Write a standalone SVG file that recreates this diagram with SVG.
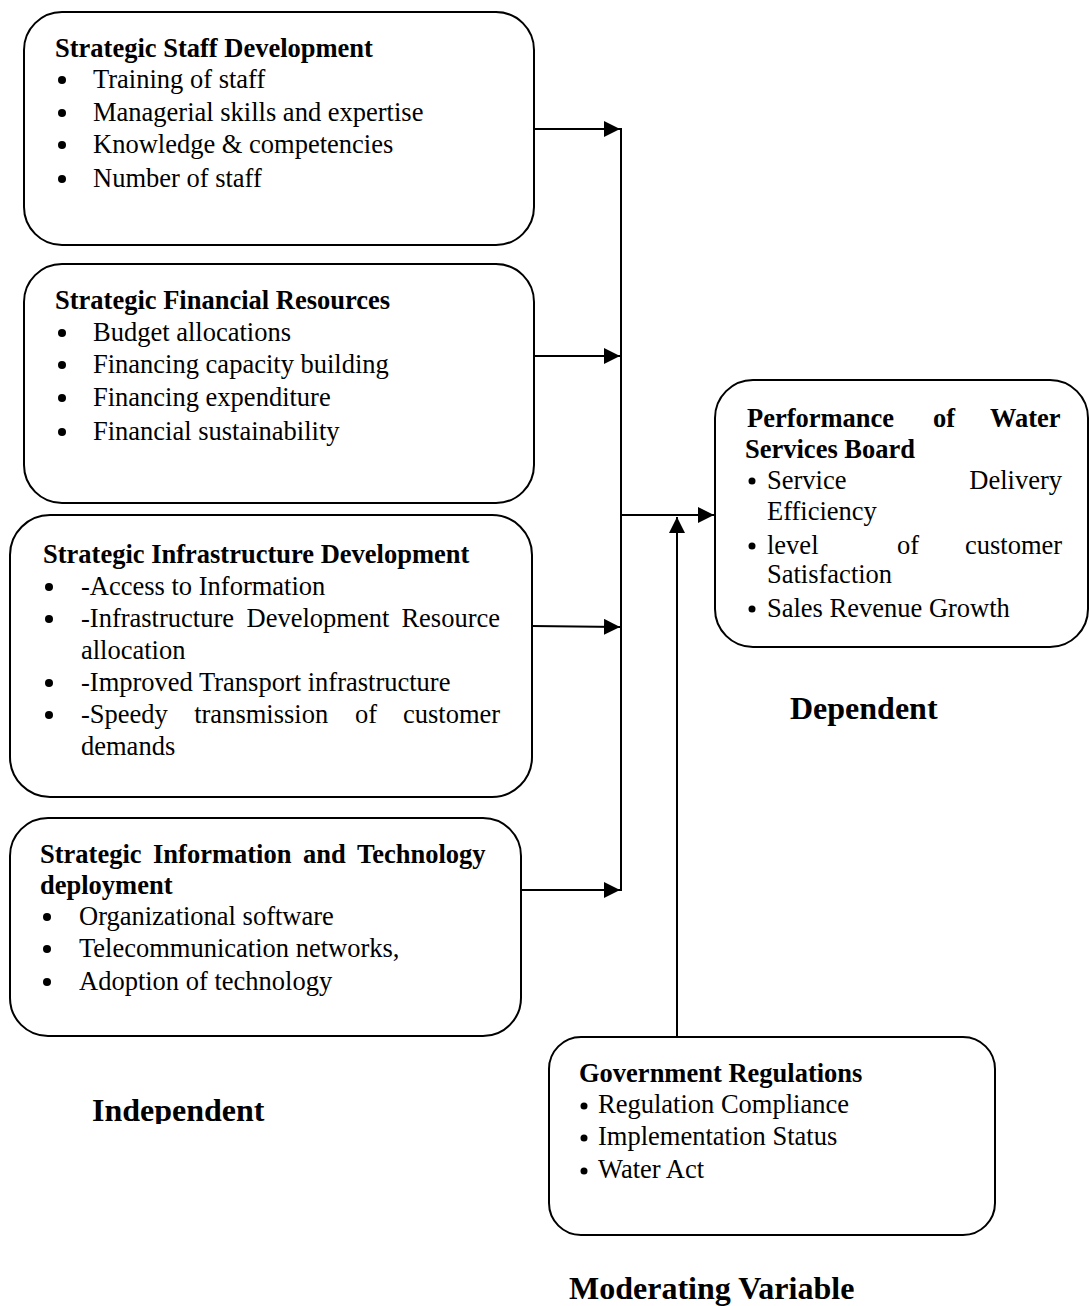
<svg xmlns="http://www.w3.org/2000/svg" width="1089" height="1306" viewBox="0 0 1089 1306">
<style>
.box{fill:#fff;stroke:#000;stroke-width:2}
.t{font-family:"Liberation Serif","Times New Roman",serif;font-size:26.5px;fill:#000}
.b{font-weight:bold}
.lbl{font-family:"Liberation Serif","Times New Roman",serif;font-size:32px;font-weight:bold;fill:#000}
.dot{fill:#000}
.con{fill:none;stroke:#000;stroke-width:2}
</style>
<defs>
<marker id="ah" markerUnits="userSpaceOnUse" markerWidth="18" markerHeight="18" refX="16" refY="8" orient="auto">
<path d="M0,0 L16,8 L0,16 Z" fill="#000"/>
</marker>
<clipPath id="clipInd"><rect x="0" y="1080" width="400" height="44"/></clipPath>
</defs>
<rect width="1089" height="1306" fill="#fff"/>

<g id="connectors">
<line class="con" x1="621" y1="128" x2="621" y2="891"/>
<line class="con" x1="534" y1="129" x2="620" y2="129" marker-end="url(#ah)"/>
<line class="con" x1="534" y1="356" x2="620" y2="356" marker-end="url(#ah)"/>
<line class="con" x1="532" y1="626" x2="620" y2="627" marker-end="url(#ah)"/>
<line class="con" x1="521" y1="890" x2="620" y2="890" marker-end="url(#ah)"/>
<line class="con" x1="621" y1="515" x2="714" y2="515" marker-end="url(#ah)"/>
<line class="con" x1="677" y1="1037" x2="677" y2="517" marker-end="url(#ah)"/>
</g>

<g id="staff">
<rect class="box" x="24" y="12" width="510" height="233" rx="38"/>
<text class="t b" x="55" y="57">Strategic Staff Development</text>
<circle class="dot" cx="62" cy="80" r="4"/><text class="t" x="93" y="88">Training of staff</text>
<circle class="dot" cx="62" cy="113" r="4"/><text class="t" x="93" y="121">Managerial skills and expertise</text>
<circle class="dot" cx="62" cy="145" r="4"/><text class="t" x="93" y="153">Knowledge &amp; competencies</text>
<circle class="dot" cx="62" cy="179" r="4"/><text class="t" x="93" y="187">Number of staff</text>
</g>

<g id="financial">
<rect class="box" x="24" y="264" width="510" height="239" rx="38"/>
<text class="t b" x="55" y="309">Strategic Financial Resources</text>
<circle class="dot" cx="62" cy="333" r="4"/><text class="t" x="93" y="341">Budget allocations</text>
<circle class="dot" cx="62" cy="365" r="4"/><text class="t" x="93" y="373">Financing capacity building</text>
<circle class="dot" cx="62" cy="398" r="4"/><text class="t" x="93" y="406">Financing expenditure</text>
<circle class="dot" cx="62" cy="432" r="4"/><text class="t" x="93" y="440">Financial sustainability</text>
</g>

<g id="infrastructure">
<rect class="box" x="10" y="515" width="522" height="282" rx="40"/>
<text class="t b" x="43" y="563">Strategic Infrastructure Development</text>
<circle class="dot" cx="49" cy="587" r="4"/><text class="t" x="81" y="595">-Access to Information</text>
<circle class="dot" cx="49" cy="619" r="4"/><text class="t" y="627"><tspan x="81">-Infrastructure</tspan><tspan x="246.6">Development</tspan><tspan x="401.4">Resource</tspan></text>
<text class="t" x="81" y="659">allocation</text>
<circle class="dot" cx="49" cy="683" r="4"/><text class="t" x="81" y="691">-Improved Transport infrastructure</text>
<circle class="dot" cx="49" cy="715" r="4"/><text class="t" y="723"><tspan x="81">-Speedy</tspan><tspan x="194.2">transmission</tspan><tspan x="355">of</tspan><tspan x="403">customer</tspan></text>
<text class="t" x="81" y="755">demands</text>
</g>

<g id="technology">
<rect class="box" x="10" y="818" width="511" height="218" rx="38"/>
<text class="t b" y="863"><tspan x="40">Strategic</tspan><tspan x="153">Information</tspan><tspan x="303">and</tspan><tspan x="357">Technology</tspan></text>
<text class="t b" x="40" y="894">deployment</text>
<circle class="dot" cx="47" cy="917" r="4"/><text class="t" x="79" y="925">Organizational software</text>
<circle class="dot" cx="47" cy="949" r="4"/><text class="t" x="79" y="957">Telecommunication networks,</text>
<circle class="dot" cx="47" cy="982" r="4"/><text class="t" x="79" y="990">Adoption of technology</text>
</g>

<g id="performance">
<rect class="box" x="715" y="380" width="373" height="267" rx="38"/>
<text class="t b" y="427"><tspan x="747">Performance</tspan><tspan x="933">of</tspan><tspan x="990">Water</tspan></text>
<text class="t b" x="745" y="458">Services Board</text>
<circle class="dot" cx="752" cy="481" r="3.5"/><text class="t" y="489"><tspan x="767">Service</tspan><tspan x="969.3">Delivery</tspan></text>
<text class="t" x="767" y="520">Efficiency</text>
<circle class="dot" cx="752" cy="546" r="3.5"/><text class="t" y="554"><tspan x="767">level</tspan><tspan x="897">of</tspan><tspan x="965">customer</tspan></text>
<text class="t" x="767" y="583">Satisfaction</text>
<circle class="dot" cx="752" cy="609" r="3.5"/><text class="t" x="767" y="617">Sales Revenue Growth</text>
</g>

<g id="government">
<rect class="box" x="549" y="1037" width="446" height="198" rx="32"/>
<text class="t b" x="579" y="1082">Government Regulations</text>
<circle class="dot" cx="584" cy="1106" r="3.5"/><text class="t" x="598" y="1113">Regulation Compliance</text>
<circle class="dot" cx="584" cy="1138" r="3.5"/><text class="t" x="598" y="1145">Implementation Status</text>
<circle class="dot" cx="584" cy="1171" r="3.5"/><text class="t" x="598" y="1178">Water Act</text>
</g>

<g id="labels">
<text class="lbl" x="790" y="719">Dependent</text>
<text class="lbl" x="92" y="1121" clip-path="url(#clipInd)">Independent</text>
<text class="lbl" x="569" y="1299">Moderating Variable</text>
</g>
</svg>
